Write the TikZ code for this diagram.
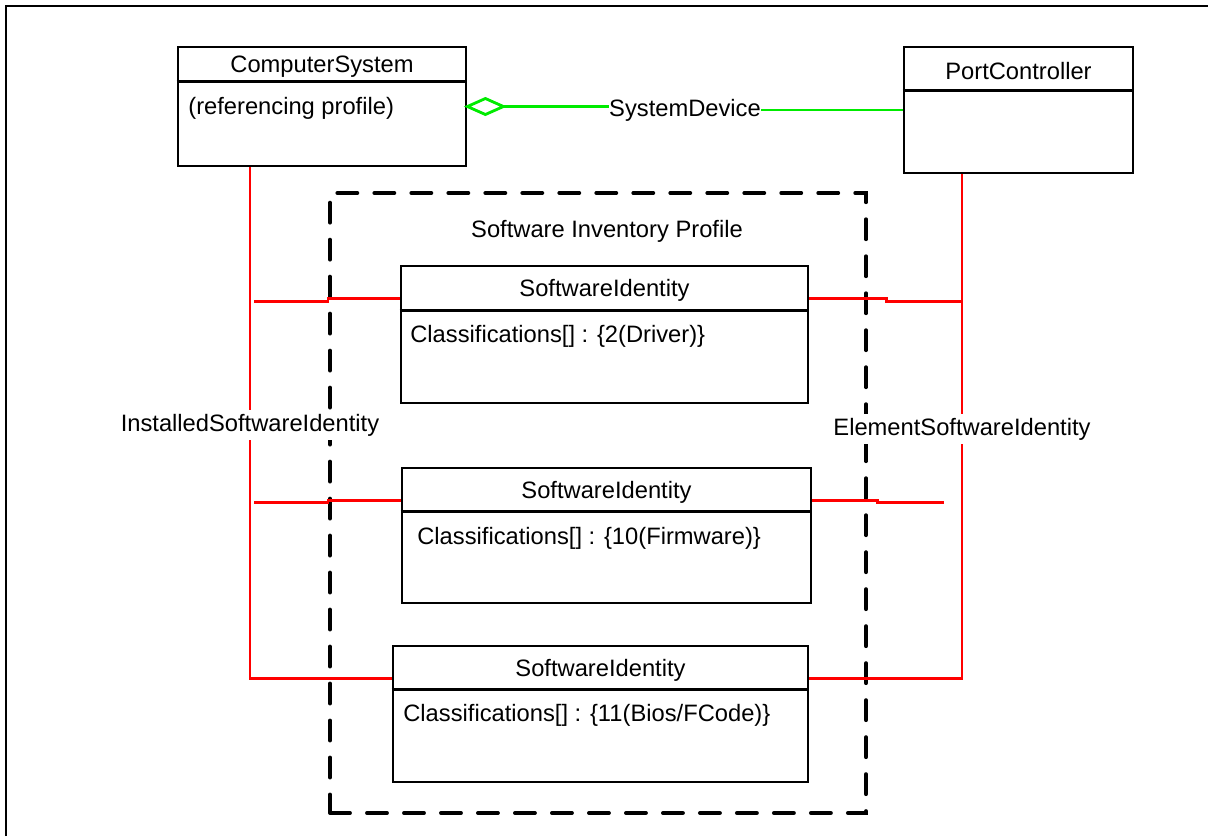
\documentclass[tikz,border=0pt]{standalone}
\usepackage{fontspec}
\setmainfont{Liberation Sans}
\usetikzlibrary{calc,fit,positioning}
\definecolor{assocred}{RGB}{255,0,0}
\definecolor{agggreen}{RGB}{0,235,0}
\tikzset{
	class diagram/.style={
		x=.02cm, y=-.02cm,
		every node/.style={font=\fontsize{13.5}{16}\selectfont},
		assoc/.style={draw=assocred, line width=1.6pt},
		agg/.style={draw=agggreen, line width=1.6pt},
		profile/.style={draw, line width=2.2pt, dash pattern=on .4cm off .34cm,
			line cap=round, inner sep=0pt},
		attr/.style={anchor=west, inner sep=0pt},
		assoc name/.style={fill=white, inner sep=.08cm}
		},
	cls/.style 2 args={
		draw, line width=1.6pt, inner sep=0pt,
		prefix after command={\pgfextra{\let\fixname\tikzlastnode}},
		append after command={\pgfextra{
			\draw[line width=1.6pt] ($(\fixname.north west)+(0,#1)$) -- ($(\fixname.north east)+(0,#1)$);
			\node at ($(\fixname.north)+(0,#1/2+3)$) {#2};}}
	}
}
\begin{document}
\begin{tikzpicture}[class diagram]
	\useasboundingbox (0,0) rectangle (1211,836);
	\draw[line width=1.7pt] (6,836) -- (6,6) -- (1208,6);
	% referencing classes
	\node[cls={36}{ComputerSystem}, fit={(178,47) (466,166)}] (cs) {};
	\node[attr] (csattr) at (188,108) {(referencing profile)};
	\node[cls={45}{PortController}, fit={(904,47) (1133,173)}] (pc) {};
	% the profile
	\node[profile, fit={(330,193) (866,813)}] (sip) {};
	\node (siptitle) at (607,231) {Software Inventory Profile};
	\node[cls={46}{SoftwareIdentity}, fit={(401,266) (808,403)}] (si1) {};
	\node[attr] (si1attr) at (410,336) {Classifications[] : \{2(Driver)\}};
	\node[cls={45}{SoftwareIdentity}, fit={(402,468) (811,603)}] (si2) {};
	\node[attr] (si2attr) at (417,538) {Classifications[] : \{10(Firmware)\}};
	\node[cls={45}{SoftwareIdentity}, fit={(393,646) (808,782)}] (si3) {};
	\node[attr] (si3attr) at (403,715) {Classifications[] : \{11(Bios/FCode)\}};
	\foreach \s in {si1,si2,si3} {
		\coordinate (\s l) at ($(\s.north west)+(0,34)$);
		\coordinate (\s r) at ($(\s.north east)+(0,34)$);
	}
	% associations
	\node[assoc name] (isid) at (250,425) {InstalledSoftwareIdentity};
	\node[assoc name] (esid) at (962,429) {ElementSoftwareIdentity};
	\draw[assoc] (isid |- cs.south) -- (isid.north);
	\draw[assoc] (isid.south) -- (isid |- si3l) -- (si3l);
	\draw[assoc] ($(isid |- si1l)+(4,3)$) -- ++(74,0) |- (si1l);
	\draw[assoc] ($(isid |- si2l)+(4,2)$) -- ++(74,0) |- (si2l);
	\draw[assoc] (esid |- pc.south) -- (esid.north);
	\draw[assoc] (esid.south) -- (esid |- si3r) -- (si3r);
	\draw[assoc] (si1r) -- ++(77,0) -- ++(0,3) -- ($(esid |- si1r)+(0,3)$);
	\draw[assoc] (si2r) -- ++(65,0) -- ++(0,2) -- ++(67,0);
	% aggregation
	\node[inner sep=0pt] (sysdev) at (685,110) {SystemDevice};
	\draw[agg] (cs.east) -- ++(18,-8) -- ++(18,8) coordinate (csdiam) -- ++(-18,8) -- cycle;
	\draw[agg] (csdiam) -- (sysdev.west |- csdiam);
	\draw[agg] (sysdev.east |- pc.west) -- (pc.west);
\end{tikzpicture}
\end{document}
